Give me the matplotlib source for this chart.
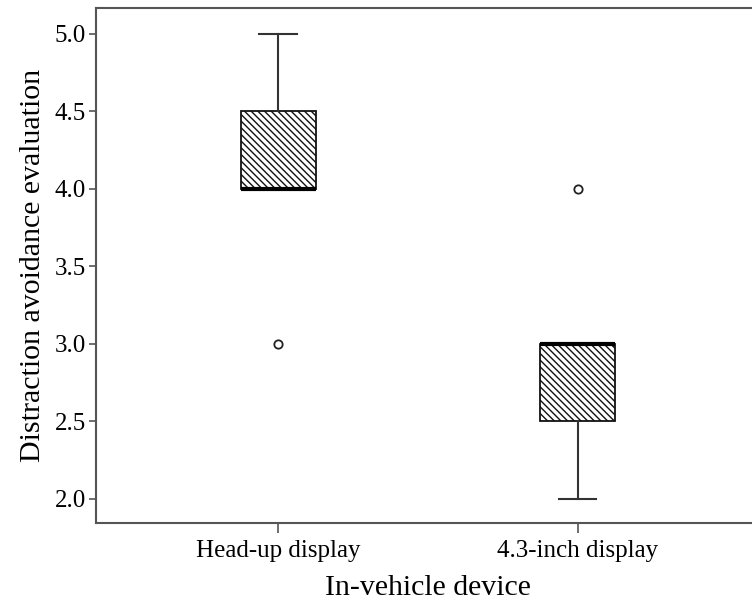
import matplotlib
matplotlib.use('Agg')
import matplotlib.pyplot as plt

devices = ['Head-up display', '4.3-inch display']
q1 = [4.0, 2.5]
medians = [4.0, 3.0]
q3 = [4.5, 3.0]
whisker_low = [4.0, 2.0]
whisker_high = [5.0, 3.0]
outliers = [[3.0], [4.0]]
y_ticks = [2.0, 2.5, 3.0, 3.5, 4.0, 4.5, 5.0]

plt.rcParams['font.family'] = 'Liberation Serif'
plt.rcParams['hatch.linewidth'] = 1.0
plt.rcParams['hatch.color'] = '#333333'

stats = []
for i, name in enumerate(devices):
    stats.append({
        'label': name,
        'q1': q1[i],
        'med': medians[i],
        'q3': q3[i],
        'whislo': whisker_low[i],
        'whishi': whisker_high[i],
        'fliers': outliers[i],
    })

fig = plt.figure(figsize=(7.52, 6.08), dpi=100)
ax = fig.add_axes([0.127, 0.140, 0.884, 0.847])

# dense diagonal hatching inside the boxes
ax.bxp(stats, positions=[1, 2], widths=0.25, patch_artist=True,
       capwidths=0.125,
       boxprops=dict(facecolor='white', edgecolor='#111111', linewidth=1.3,
                     hatch='\\' * 5),
       medianprops=dict(color='black', linewidth=3),
       whiskerprops=dict(color='#333333', linewidth=1.5),
       capprops=dict(color='#333333', linewidth=1.5),
       flierprops=dict(marker='o', markersize=6, markerfacecolor='white',
                       markeredgecolor='#222222', markeredgewidth=1.3))

ax.set_xlim(0.39, 2.61)
ax.set_ylim(1.845, 5.168)
ax.set_yticks(y_ticks)
ax.set_yticklabels([f'{v:.1f}' for v in y_ticks])
ax.set_xticks([1, 2])
ax.set_xticklabels(devices)

for side in ['left', 'bottom', 'top']:
    ax.spines[side].set_color('#555555')
    ax.spines[side].set_linewidth(1.5)
ax.spines['right'].set_visible(False)

ax.tick_params(axis='y', length=5, width=1.2, color='#555555', pad=2, labelsize=18)
ax.tick_params(axis='x', length=7, width=1.2, color='#555555', pad=5, labelsize=18)

ax.set_xlabel('In-vehicle device', fontsize=21.5, labelpad=10)
ax.set_ylabel('Distraction avoidance evaluation', fontsize=21.5, labelpad=6)

fig.savefig('out.png', dpi=100)
